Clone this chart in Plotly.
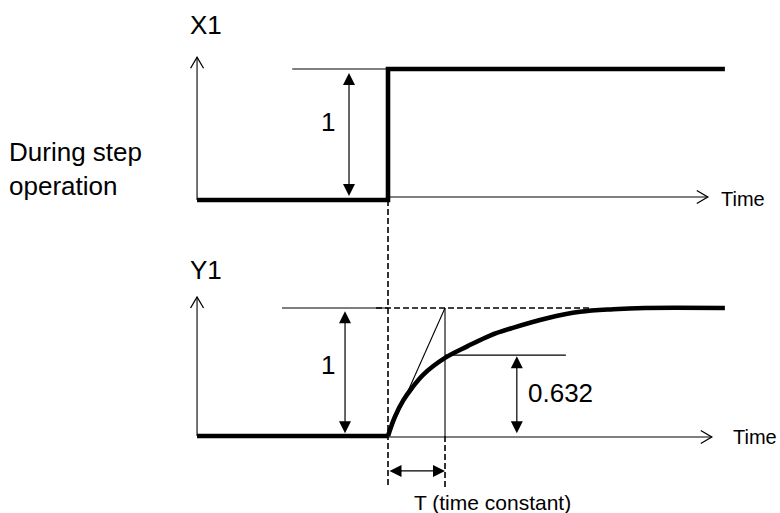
import plotly.graph_objects as go

# ---------------- data (time in units of T, response as fraction of the step) ----------------
step_time = 0.0
time_constant = 1.0
t_start = -3.35
t_end = 5.91
step_size = 1.0
tc_level = 0.632

x1_t = [t_start, step_time, step_time, t_end]
x1_val = [0, 0, 1, 1]

y1_base_t = [t_start, step_time]
y1_base_val = [0, 0]

curve_t = [0, 0.12, 0.27, 0.42, 0.62, 1.0, 1.39, 1.79, 2.19, 2.79, 3.37, 3.95, 4.5, 5.91]
curve_val = [0, 0.15, 0.28, 0.375, 0.48, 0.61, 0.70, 0.785, 0.845, 0.92, 0.97, 0.99, 1.0, 1.0]

labels_big = {"x1": "X1", "y1": "Y1", "one": "1", "tc": "0.632",
              "side": "During step<br>operation"}
labels_small = {"time": "Time", "T": "T (time constant)"}

# ---------------- layout geometry ----------------
W, H = 780, 513
x_range = [-6.807, 6.877]
y_range = [-0.6016, 3.406]     # lower panel (Y1)
y2_range = [-2.389, 1.527]     # upper panel (X1)

sx = W / (x_range[1] - x_range[0])
sy = H / (y_range[1] - y_range[0])
sy2 = H / (y2_range[1] - y2_range[0])

FONT = "Liberation Sans, Arial, sans-serif"
BIG = 26
SMALL = 20
THICK = 4.6
THIN = 1.1


def y2_to_y(v):
    f = (v - y2_range[0]) / (y2_range[1] - y2_range[0])
    return y_range[0] + f * (y_range[1] - y_range[0])


fig = go.Figure()

# thick signal lines
fig.add_trace(go.Scatter(x=x1_t, y=x1_val, yaxis="y2", mode="lines",
                         line=dict(color="black", width=THICK), hoverinfo="skip"))
fig.add_trace(go.Scatter(x=y1_base_t, y=y1_base_val, mode="lines",
                         line=dict(color="black", width=THICK), hoverinfo="skip"))
fig.add_trace(go.Scatter(x=curve_t, y=curve_val, mode="lines",
                         line=dict(color="black", width=THICK, shape="spline", smoothing=1.0),
                         hoverinfo="skip"))


def open_head(tx, ty, direction, yaxis="y", length=11, half=6.5):
    s = sy if yaxis == "y" else sy2
    if direction == "up":
        xs = [tx - half / sx, tx, tx + half / sx]
        ys = [ty - length / s, ty, ty - length / s]
    else:
        xs = [tx - length / sx, tx, tx - length / sx]
        ys = [ty + half / s, ty, ty - half / s]
    fig.add_trace(go.Scatter(x=xs, y=ys, yaxis=yaxis, mode="lines",
                             line=dict(color="black", width=THIN + 0.2), hoverinfo="skip"))


shapes = []


def line(x0, y0, x1, y1, yref="y", width=THIN, dash=None):
    d = dict(type="line", xref="x", yref=yref, x0=x0, y0=y0, x1=x1, y1=y1,
             line=dict(color="black", width=width))
    if dash:
        d["line"]["dash"] = dash
    shapes.append(d)


annotations = []


def dbl_arrow(x0, y0, x1, y1, yref="y"):
    annotations.append(dict(x=x1, y=y1, ax=x0, ay=y0, xref="x", yref=yref, axref="x", ayref=yref,
                            text="", showarrow=True, arrowhead=2, startarrowhead=2,
                            arrowside="end+start", arrowsize=2.0, startarrowsize=2.0,
                            arrowwidth=1.2, arrowcolor="black", standoff=0, startstandoff=0))


def text(x, y, s, size, yref="y", xanchor="center", align="center"):
    annotations.append(dict(x=x, y=y, xref="x", yref=yref, text=s, showarrow=False,
                            xanchor=xanchor, yanchor="middle", align=align,
                            font=dict(family=FONT, size=size, color="black")))


# ---------------- upper panel (X1) ----------------
y_tip = 1.09
line(t_start, 0, t_start, y_tip, yref="y2")
open_head(t_start, y_tip, "up", yaxis="y2")
line(step_time, 0.023, 5.61, 0.023, yref="y2")
open_head(5.61, 0.023, "right", yaxis="y2")
line(-1.68, step_size, step_time, step_size, yref="y2")
dbl_arrow(-0.684, 0.02, -0.684, 0.97, yref="y2")
text(-1.05, 0.595, labels_big["one"], BIG, yref="y2")
text(-3.19, 1.34, labels_big["x1"], BIG, yref="y2")
text(6.23, 0.008, labels_small["time"], SMALL, yref="y2")

# ---------------- lower panel (Y1) ----------------
y_tip_b = 1.086
line(t_start, 0, t_start, y_tip_b)
open_head(t_start, y_tip_b, "up")
line(step_time, -0.008, 5.68, -0.008)
open_head(5.68, -0.008, "right")
line(-1.86, step_size, step_time, step_size)
line(-0.21, step_size, 3.54, step_size, width=1.6, dash="6px,3px")
dbl_arrow(-0.754, 0.01, -0.754, 0.975)
text(-1.05, 0.555, labels_big["one"], BIG)
text(-3.19, 1.30, labels_big["y1"], BIG)

# tangent and time-constant marks
line(step_time, 0, step_time + time_constant, step_size)
line(step_time + time_constant, step_size, step_time + time_constant, 0)
line(step_time + time_constant, 0, step_time + time_constant, -0.406, width=1.6, dash="6px,3px")
line(step_time, y2_to_y(0), step_time, -0.406, width=1.6, dash="6px,3px")
dbl_arrow(step_time, -0.273, step_time + time_constant, -0.273)
text(1.83, -0.516, labels_small["T"], 21)

# 0.632 level
line(step_time + time_constant, tc_level, 3.12, tc_level)
dbl_arrow(2.26, 0.01, 2.26, tc_level - 0.01)
text(3.02, 0.336, labels_big["tc"], BIG)
text(6.44, -0.008, labels_small["time"], SMALL)

# side label
text(-6.69, 0.237, labels_big["side"], BIG, yref="y2", xanchor="left", align="left")

fig.update_layout(
    width=W, height=H, autosize=False,
    margin=dict(l=0, r=0, t=0, b=0),
    paper_bgcolor="white", plot_bgcolor="white",
    showlegend=False,
    xaxis=dict(range=x_range, visible=False, fixedrange=True),
    yaxis=dict(range=y_range, visible=False, fixedrange=True),
    yaxis2=dict(range=y2_range, visible=False, overlaying="y", fixedrange=True),
    shapes=shapes, annotations=annotations,
)

fig.write_html("out.html", config={"displayModeBar": False},
               post_script="document.body.style.margin='0px';")
